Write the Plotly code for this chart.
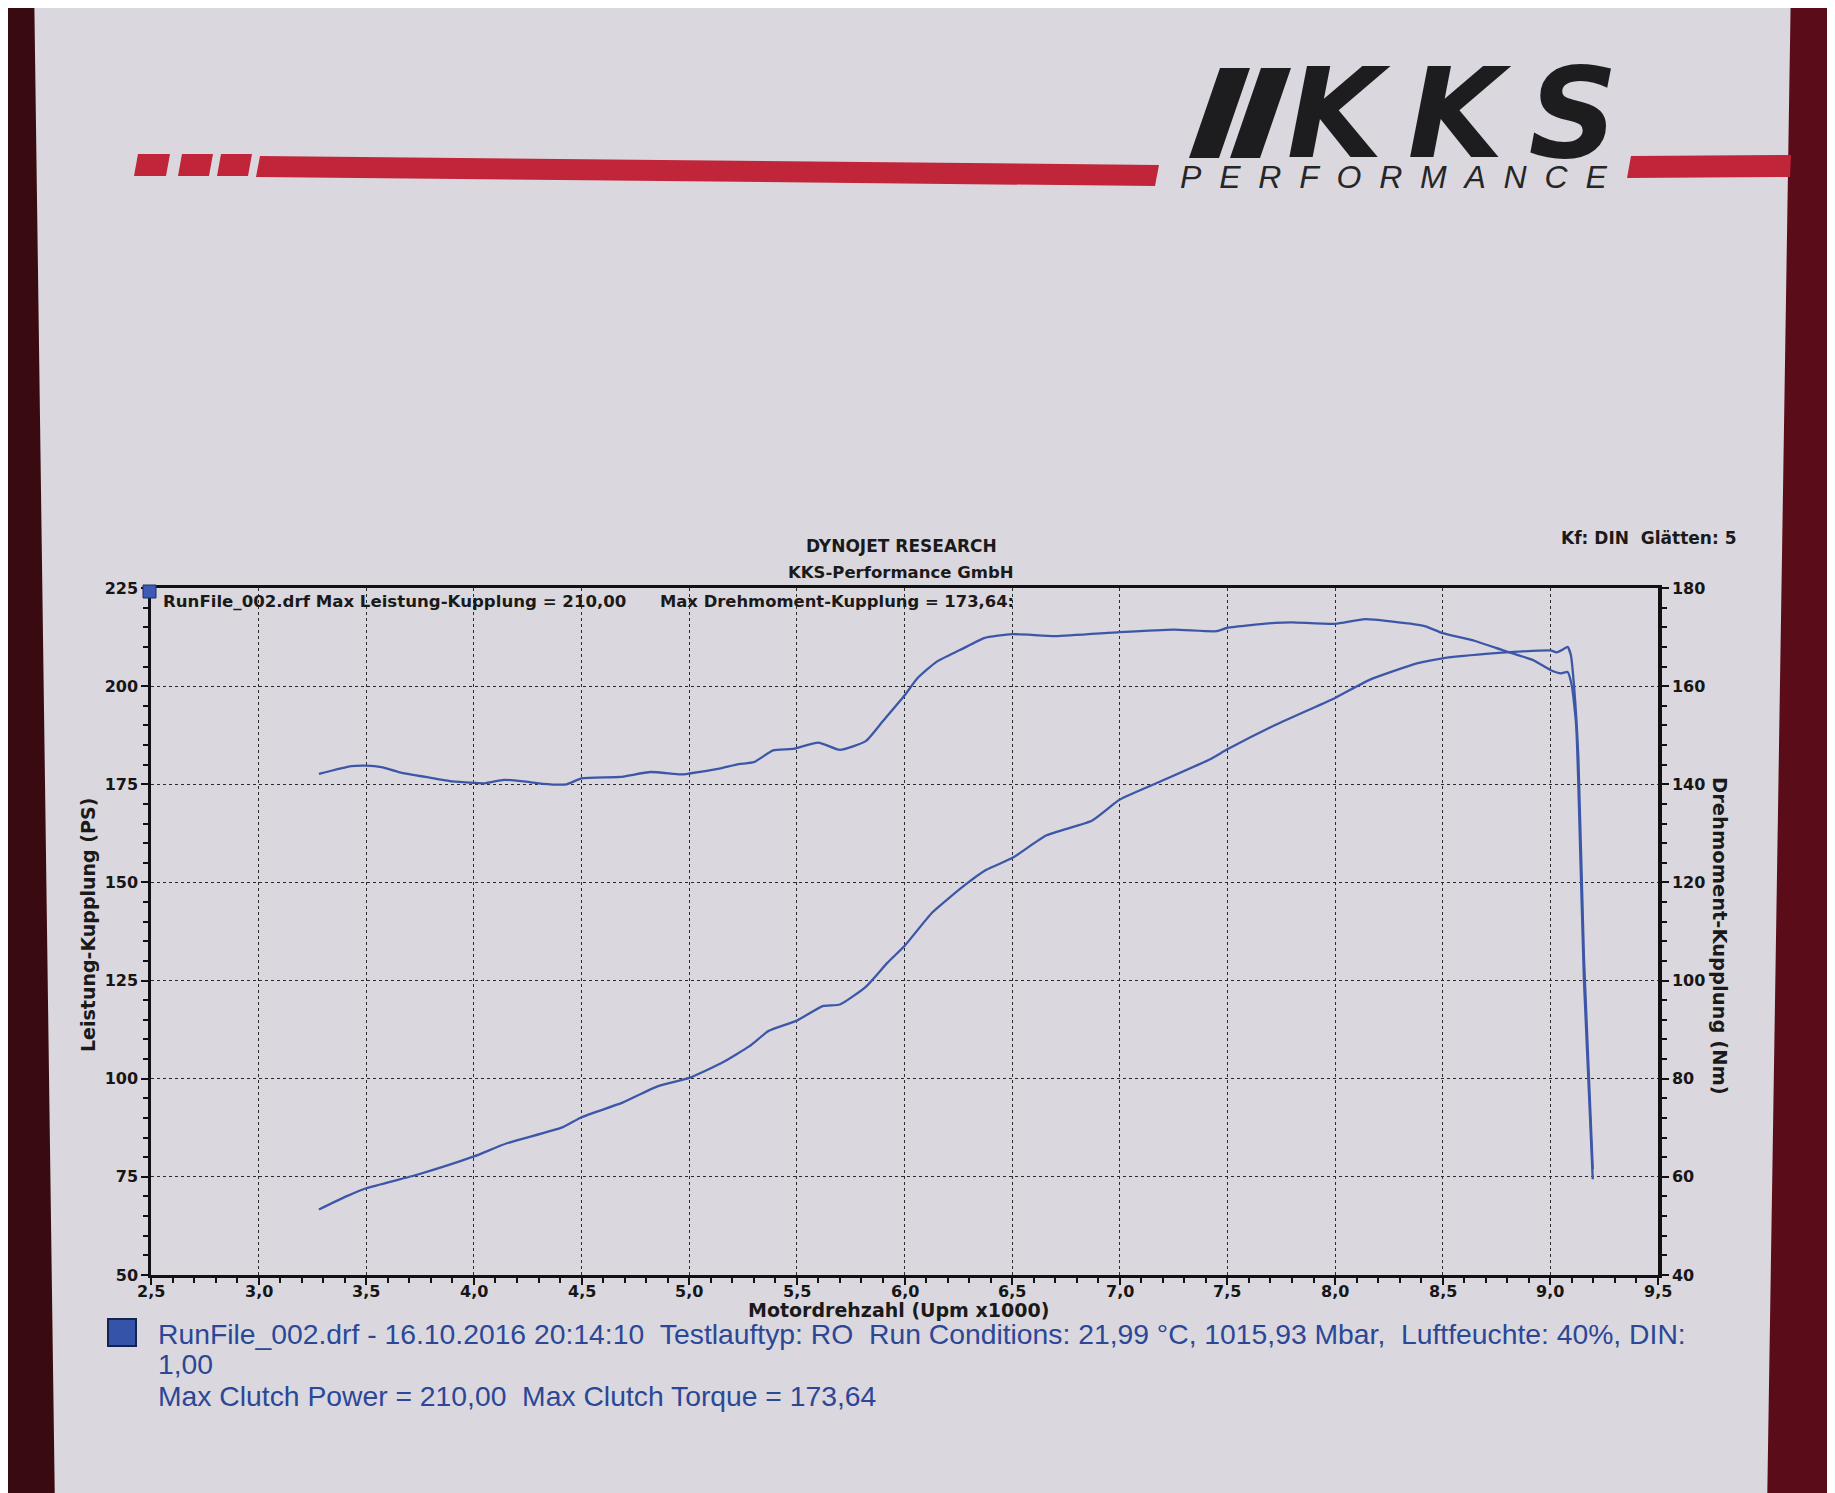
import plotly.graph_objects as go

# ---------------- data (read from the dyno sheet) ----------------
rpm_power = [3.28, 3.41, 3.50, 3.74, 4.00, 4.15, 4.41, 4.50, 4.69, 4.85, 5.00, 5.15, 5.28,
             5.37, 5.50, 5.62, 5.70, 5.82, 5.92, 6.00, 6.13, 6.28, 6.38, 6.50, 6.66, 6.87,
             7.00, 7.18, 7.42, 7.50, 7.71, 8.00, 8.16, 8.38, 8.50, 8.70, 8.85, 9.00, 9.03,
             9.06, 9.08, 9.095, 9.11, 9.13, 9.156, 9.197]
power_ps = [66.7, 70.1, 72.1, 75.6, 80.2, 83.5, 87.6, 90.2, 93.9, 98.0, 100.2, 104.0, 108.3,
            112.2, 114.8, 118.5, 118.9, 123.4, 129.5, 133.8, 142.4, 149.3, 153.2, 156.2, 162.0, 165.7,
            171.1, 175.5, 181.4, 183.9, 189.8, 197.0, 201.6, 205.8, 207.1, 208.2, 208.8, 209.1, 208.6,
            209.4, 210.0, 208.0, 200.0, 182.0, 131.0, 77.0]

rpm_torque = [3.28, 3.43, 3.50, 3.57, 3.65, 3.79, 3.90, 4.00, 4.05, 4.14, 4.23, 4.32, 4.43,
              4.50, 4.68, 4.82, 4.96, 5.00, 5.14, 5.23, 5.30, 5.39, 5.48, 5.60, 5.70, 5.82,
              5.90, 6.00, 6.06, 6.15, 6.26, 6.37, 6.50, 6.70, 7.00, 7.25, 7.45, 7.50, 7.72,
              7.80, 8.00, 8.14, 8.37, 8.42, 8.50, 8.65, 8.78, 8.92, 9.00, 9.05, 9.08, 9.10,
              9.12, 9.13, 9.156, 9.197]
torque_nm = [142.1, 143.7, 143.8, 143.5, 142.5, 141.4, 140.6, 140.3, 140.2, 140.9, 140.6, 140.1, 140.0,
             141.2, 141.5, 142.5, 142.0, 142.2, 143.2, 144.1, 144.5, 146.9, 147.2, 148.5, 147.0, 148.8,
             152.9, 158.1, 161.6, 165.0, 167.4, 169.8, 170.6, 170.2, 171.0, 171.5, 171.2, 171.9, 172.9,
             173.0, 172.7, 173.64, 172.6, 172.2, 170.8, 169.2, 167.3, 165.3, 163.3, 162.6, 162.9, 160.0,
             152.0, 140.0, 100.0, 59.5]

x_tick_vals = [2.5, 3.0, 3.5, 4.0, 4.5, 5.0, 5.5, 6.0, 6.5, 7.0, 7.5, 8.0, 8.5, 9.0, 9.5]
x_tick_text = ["2,5", "3,0", "3,5", "4,0", "4,5", "5,0", "5,5", "6,0", "6,5", "7,0", "7,5",
               "8,0", "8,5", "9,0", "9,5"]

x_range = [2.5, 9.5]
ps_range = [50, 225]
nm_range = [40, 180]

# ---------------- geometry helpers (target screenshot pixels) ----------------
W, H = 1835, 1493
OFF = 8                      # page margin offset of the rendered figure
L, R, T, B = 151, 1658, 588, 1275
PW, PH = R - L, B - T


def px(x):
    return (x - L) / PW


def py(y):
    return (B - y) / PH


def poly(points, fill, layer="below"):
    d = "M " + " L ".join(f"{px(a):.5f},{py(b):.5f}" for a, b in points) + " Z"
    return dict(type="path", xref="paper", yref="paper", path=d, fillcolor=fill,
                line=dict(width=0, color=fill), layer=layer)


PAPER = "#dad8de"
LINE_BLUE = "#3d57a8"
TXT_BLUE = "#2b4796"
BOLD = "DejaVu Sans"
ARIAL = "Liberation Sans"

fig = go.Figure()
fig.add_trace(go.Scatter(x=rpm_power, y=power_ps, mode="lines", yaxis="y",
                         line=dict(color=LINE_BLUE, width=2.3, shape="spline", smoothing=0.5),
                         name="Leistung-Kupplung", showlegend=False))
fig.add_trace(go.Scatter(x=rpm_torque, y=torque_nm, mode="lines", yaxis="y2",
                         line=dict(color=LINE_BLUE, width=2.3, shape="spline", smoothing=0.5),
                         name="Drehmoment-Kupplung", showlegend=False))

shapes = []
# right maroon strip and the paper sheet
shapes.append(poly([(1740, -20), (W + 20, -20), (W + 20, H + 20), (1740, H + 20)], "#5a0d19"))
shapes.append(poly([(34, -20), (1791, -20), (1767, H + 20), (55, H + 20)], PAPER))
# red stripe (header)
red = "#c0253a"
for x0, x1 in [(134, 166), (178, 209), (217, 248)]:
    shapes.append(poly([(x0 + 4, 154), (x1 + 4, 154), (x1, 176), (x0, 176)], red))
shapes.append(poly([(260, 156), (1159, 165), (1155, 186), (256, 177)], red))
shapes.append(poly([(1631, 156), (1791, 155), (1790, 177), (1627, 178)], red))
# logo bars
dark = "#1d1c1e"
shapes.append(poly([(1220, 68), (1250, 68), (1219, 158), (1189, 158)], dark))
shapes.append(poly([(1261, 68), (1291, 68), (1260, 158), (1230, 158)], dark))
# small blue marker in the plot corner
shapes.append(dict(type="rect", xref="paper", yref="paper", x0=px(143), x1=px(156),
                   y0=py(598), y1=py(585), fillcolor="#3b5bb5", line=dict(color="#1d2f6a", width=1),
                   layer="above"))
# legend swatch
shapes.append(dict(type="rect", xref="paper", yref="paper", x0=px(108), x1=px(136),
                   y0=py(1346), y1=py(1319), fillcolor="#3553a8", line=dict(color="#15234f", width=2),
                   layer="above"))

ann = []


def text(x, y, s, size, family=BOLD, color="#1a1a1a", xanchor="center", yanchor="middle",
         weight="normal", style="normal", angle=0, align="center"):
    ann.append(dict(x=px(x), y=py(y), xref="paper", yref="paper", text=s, showarrow=False,
                    xanchor=xanchor, yanchor=yanchor, textangle=angle, align=align,
                    font=dict(family=family, size=size, color=color, weight=weight, style=style)))


NB = "\u00a0"
TH = "\u2009"
# logo: big KKS over the spaced PERFORMANCE line (one text block)
logo_top = (NB * 16 + '<span style="font-size:124px;font-family:DejaVu Sans;font-weight:bold;'
            'color:#1d1c1e">' + "K" + TH + "K" + TH + "S" + "</span>")
logo_bottom = '<span style="font-size:32px">' + (NB * 2).join("PERFORMANCE") + "</span>"
text(1178, 197, logo_top + "<br>" + logo_bottom, 24, family=ARIAL, color="#262626",
     style="italic", xanchor="left", yanchor="bottom", align="left")

# header texts
text(901, 546, "DYNOJET RESEARCH", 17, weight="bold")
text(901, 572, "KKS-Performance GmbH", 16.5, weight="bold")
text(1738, 538, "Kf: DIN" + NB * 2 + "Glätten: 5", 17, weight="bold", xanchor="right")
# in-plot caption
text(161, 601, "RunFile_002.drf Max Leistung-Kupplung = 210,00", 16.6, weight="bold", xanchor="left")
text(658, 601, "Max Drehmoment-Kupplung = 173,64:", 16.4, weight="bold", xanchor="left")
# axis titles
text(88, 925, "Leistung-Kupplung (PS)", 19, weight="bold", angle=-90)
text(1720, 936, "Drehmoment-Kupplung (Nm)", 19.5, weight="bold", angle=90)
text(898, 1310, "Motordrehzahl (Upm x1000)", 19, weight="bold")
# x tick labels, placed on the x scale just under the axis
for v, s in zip(x_tick_vals, x_tick_text):
    ann.append(dict(x=v, y=py(1291), xref="x", yref="paper", text=s, showarrow=False,
                    xanchor="center", yanchor="middle",
                    font=dict(family=BOLD, size=16, color="#161616", weight="bold")))
# legend lines
text(156, 1334, "RunFile_002.drf - 16.10.2016 20:14:10" + NB * 2 + "Testlauftyp: RO" + NB * 2
     + "Run Conditions: 21,99 °C, 1015,93 Mbar," + NB * 2 + "Luftfeuchte: 40%, DIN:", 28.3,
     family=ARIAL, color=TXT_BLUE, xanchor="left")
text(156, 1364, "1,00", 28.3, family=ARIAL, color=TXT_BLUE, xanchor="left")
text(156, 1396, "Max Clutch Power = 210,00" + NB * 2 + "Max Clutch Torque = 173,64", 28.3, family=ARIAL,
     color=TXT_BLUE, xanchor="left")

tickfont = dict(family=BOLD, size=16, color="#161616", weight="bold")
common = dict(showline=True, linecolor="#111111", tickcolor="#111111",
              tickwidth=1.5, zeroline=False, tickfont=tickfont)

fig.update_layout(
    width=W - OFF, height=H - OFF,
    margin=dict(l=L - OFF, r=W - R, t=T - OFF, b=H - B),
    paper_bgcolor="#3a0a11",
    plot_bgcolor=PAPER,
    separators=",.",
    showlegend=False,
    shapes=shapes,
    annotations=ann,
    xaxis=dict(range=x_range, tickvals=x_tick_vals, showticklabels=False, showgrid=True,
               gridcolor="#2a2a2a", griddash="dot", gridwidth=1.4, linewidth=3, mirror=True,
               ticks="outside", ticklen=7,
               minor=dict(dtick=0.1, tick0=2.5, ticks="outside", ticklen=5, tickcolor="#111111",
                          showgrid=False),
               **common),
    yaxis=dict(range=ps_range, tick0=50, dtick=25, showgrid=True, gridcolor="#2a2a2a",
               griddash="dot", gridwidth=1.4, linewidth=2.5, ticks="outside", ticklen=7,
               minor=dict(dtick=5, ticks="outside", ticklen=5, tickcolor="#111111", showgrid=False),
               **common),
    yaxis2=dict(range=nm_range, tick0=40, dtick=20, overlaying="y", side="right", showgrid=False,
                linewidth=3.5, ticks="outside", ticklen=7,
                minor=dict(dtick=4, ticks="outside", ticklen=5, tickcolor="#111111", showgrid=False),
                **common),
)

fig.write_html("out.html")
